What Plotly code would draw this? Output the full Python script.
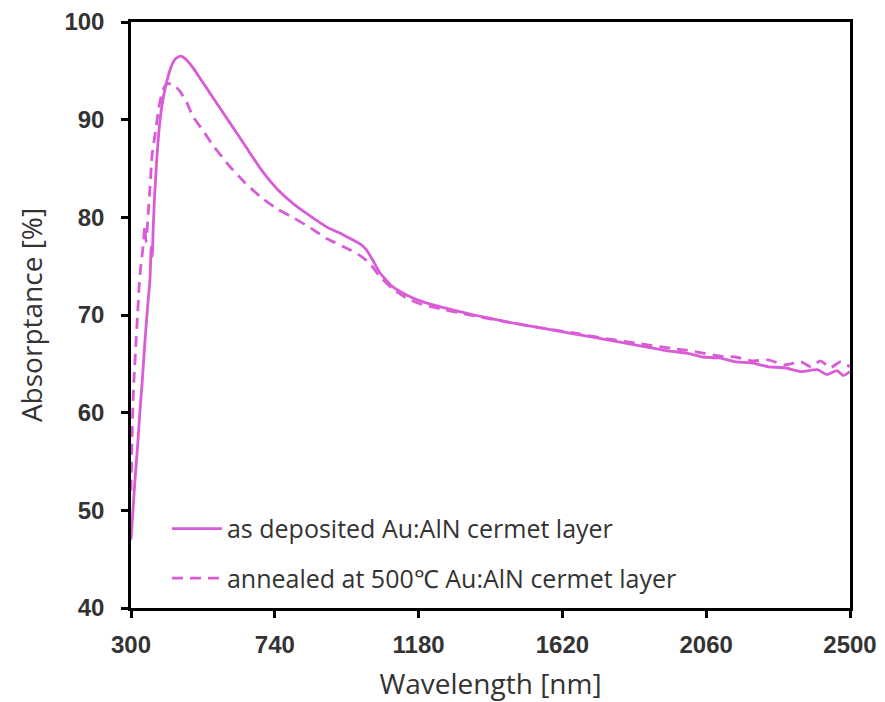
import plotly.graph_objects as go

# Wavelength grid (nm) and absorptance (%) for the as-deposited layer
wl_dep = [300, 306, 312, 320, 327, 335, 342, 350, 358, 362, 365, 368, 372, 378,
          386, 395, 405, 415, 425, 435, 450, 460, 470, 490, 510, 550, 600,
          650, 700, 750, 800, 850, 900, 950, 1000, 1020, 1040, 1060, 1080, 1100,
          1140, 1180, 1250, 1350, 1450, 1550, 1650, 1750, 1850, 1950, 2000, 2050,
          2100, 2150, 2200, 2250, 2300, 2350, 2400, 2430, 2460, 2480, 2500]
abs_dep = [47.0, 50.0, 53.0, 56.5, 60.0, 63.5, 67.0, 70.5, 73.6, 77.0, 76.0, 79.0,
           82.0, 85.5, 89.0, 91.5, 93.3, 94.6, 95.6, 96.2, 96.5, 96.4, 96.1,
           95.3, 94.3, 92.3, 89.8, 87.3, 84.8, 82.8, 81.3, 80.1, 79.0, 78.2, 77.3,
           76.7, 75.6, 74.4, 73.6, 72.9, 72.1, 71.5, 70.8, 70.0, 69.3, 68.7, 68.1,
           67.5, 66.9, 66.3, 66.1, 65.7, 65.6, 65.2, 65.1, 64.7, 64.6, 64.2, 64.4,
           63.9, 64.3, 63.8, 64.2]

# Absorptance (%) after annealing at 500 °C
wl_ann = [300, 303, 306, 310, 315, 320, 325, 330, 337, 342, 346, 352, 358, 365,
          376, 385, 395, 405, 415, 430, 450, 470, 490, 520, 550, 600, 650, 700,
          750, 800, 850, 900, 950, 1000, 1030, 1060, 1100, 1140, 1180, 1250, 1350,
          1450, 1550, 1650, 1750, 1850, 1950, 2000, 2050, 2100, 2150, 2200, 2250,
          2300, 2350, 2380, 2410, 2440, 2470, 2500]
abs_ann = [52.0, 57.0, 61.0, 64.0, 67.0, 70.0, 73.0, 75.0, 77.0, 79.0, 77.5, 80.0,
           83.0, 86.5, 89.0, 91.2, 92.8, 93.5, 93.7, 93.6, 92.9, 91.8, 90.3, 88.9,
           87.4, 85.3, 83.5, 82.0, 80.8, 79.9, 78.9, 77.8, 77.0, 76.1, 75.3, 74.0,
           72.7, 71.8, 71.2, 70.6, 69.9, 69.3, 68.7, 68.2, 67.6, 67.1, 66.6, 66.4,
           66.1, 65.8, 65.7, 65.3, 65.4, 64.9, 65.2, 64.7, 65.3, 64.6, 65.2, 64.7]

x_ticks = [300, 740, 1180, 1620, 2060, 2500]
y_ticks = [40, 50, 60, 70, 80, 90, 100]

series_names = ["as deposited Au:AlN cermet layer",
                "annealed at 500℃ Au:AlN cermet layer"]

color = "#D95CD6"
text_font = "'Open Sans', Lato, sans-serif"
tick_font = "'Liberation Sans', Arial, sans-serif"

fig = go.Figure()
fig.add_trace(go.Scatter(x=wl_dep, y=abs_dep, mode="lines", name=series_names[0],
                         legendgroup="dep",
                         line=dict(color=color, width=2.8, shape="spline", smoothing=0.5)))
fig.add_trace(go.Scatter(x=wl_ann, y=abs_ann, mode="lines", name=series_names[1],
                         legendgroup="ann",
                         line=dict(color=color, width=2.8, dash="11px,7px",
                                   shape="spline", smoothing=0.5)))

axis_common = dict(showline=True, linecolor="black", linewidth=2.5, mirror=True,
                   ticks="outside", ticklen=7, tickwidth=2.5, tickcolor="black",
                   showgrid=False, zeroline=False, automargin=False,
                   tickfont=dict(family=tick_font, size=24, color="#333333", weight="bold"))

title_font = dict(family=text_font, size=28, color="#333333")

fig.update_xaxes(range=[300, 2500], tickvals=x_ticks, ticktext=[str(v) for v in x_ticks],
                 title=dict(text="Wavelength [nm]", font=title_font, standoff=20),
                 ticklabelstandoff=6,
                 **axis_common)
fig.update_yaxes(range=[40, 100], tickvals=y_ticks, ticktext=[str(v) for v in y_ticks],
                 title=dict(text="Absorptance [%]", font=title_font, standoff=14),
                 ticklabelstandoff=12,
                 **axis_common)

fig.update_layout(
    width=885, height=702,
    margin=dict(l=131, r=35, t=22, b=94),
    paper_bgcolor="white", plot_bgcolor="white",
    legend=dict(x=0.05, y=0.012, xanchor="left", yanchor="bottom",
                bgcolor="rgba(0,0,0,0)", borderwidth=0, tracegroupgap=14,
                itemwidth=50,
                font=dict(family=text_font, size=25, color="#333333")),
    showlegend=True,
)

fig.write_html("out.html")
